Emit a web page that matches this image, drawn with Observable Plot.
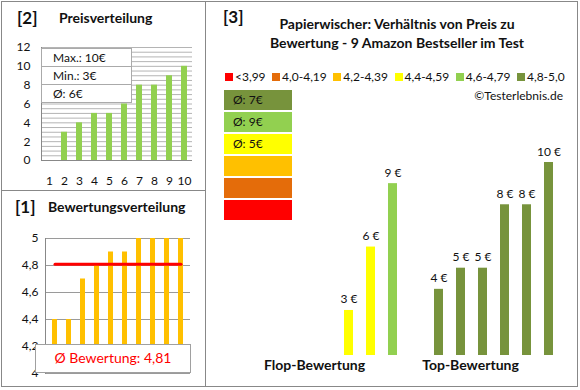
<!DOCTYPE html>
<html><head><meta charset="utf-8">
<script src="https://cdn.jsdelivr.net/npm/d3@7"></script>
<script src="https://cdn.jsdelivr.net/npm/@observablehq/plot@0.6"></script>
<style>
body{margin:0;background:#fff;}
#root{position:relative;width:580px;height:390px;font-family:Lato,"Open Sans",sans-serif;color:#111;overflow:hidden;background:#fff;}
#root svg{position:absolute;}
</style></head><body><div id="root"></div>
<script>
// ---------- data ----------
const priceSlots = [1,2,3,4,5,6,7,8,9,10];
const priceValues = [0,3,4,5,5,6,8,8,9,10];
const priceTicks = [0,2,4,6,8,10,12];
const priceGrid = d3.range(0, 12.01, 0.5);
const priceStats = ["Max.: 10€", "Min.: 3€", "Ø: 6€"];

const ratingSlots = [1,2,3,4,5,6,7,8,9,10];
const ratingValues = [4.4,4.4,4.7,4.8,4.9,4.9,5,5,5,5];
const ratingTicks = [4,4.2,4.4,4.6,4.8,5];
const ratingAverage = 4.81;
const ratingAverageLabel = "Ø Bewertung: 4,81";

const classLabels = ["<3,99","4,0-4,19","4,2-4,39","4,4-4,59","4,6-4,79","4,8-5,0"];
const classColors = ["#FF0000","#E46C0A","#FFC000","#FFFF00","#92D050","#77933C"];
const classAvgPrice = [null,null,null,"Ø: 5€","Ø: 9€","Ø: 7€"];

const groupNames = ["Flop-Bewertung","Top-Bewertung"];
const flopPrices = [3,6,9];
const flopClasses = ["4,4-4,59","4,4-4,59","4,6-4,79"];
const topPrices = [4,5,5,8,8,10];
const topClasses = ["4,8-5,0","4,8-5,0","4,8-5,0","4,8-5,0","4,8-5,0","4,8-5,0"];
const slotsPerGroup = 6;

const titleMain = ["Papierwischer: Verhältnis von Preis zu","Bewertung - 9 Amazon Bestseller im Test"];
const credit = "©Testerlebnis.de";

// ---------- helpers ----------
const root = document.getElementById("root");
function addDiv(css, text){const d=document.createElement("div");d.style.cssText="position:absolute;"+css;if(text!=null)d.textContent=text;root.appendChild(d);return d;}
function place(svg, left, top){svg.style.left=left+"px";svg.style.top=top+"px";root.appendChild(svg);}
const baseStyle = {fontFamily:"Lato, sans-serif", fontSize:"12px", color:"#111", background:"transparent", overflow:"visible"};
const commaFmt = d => String(+d.toFixed(1)).replace(".", ",");

// ---------- [2] Preisverteilung ----------
const pricePlot = Plot.plot({
  width:205, height:190, marginLeft:41, marginRight:13, marginTop:47, marginBottom:30,
  style: baseStyle,
  x:{type:"band", domain:priceSlots, paddingInner:0.6, paddingOuter:0.3},
  y:{domain:[0,12]},
  marks:[
    Plot.ruleY(priceGrid, {stroke:"#b4b4b4"}),
    Plot.barY(priceSlots.map((s,i)=>({slot:s, price:priceValues[i]})), {x:"slot", y:"price", fill:"#92D050"}),
    Plot.frame({anchor:"left", stroke:"#888"}),
    Plot.ruleY([0], {stroke:"#888"}),
    Plot.axisY({ticks:priceTicks, tickSize:0, tickPadding:11, fontSize:12, label:null}),
    Plot.axisX({tickSize:0, tickPadding:16, fontSize:12, label:null})
  ]
});
place(pricePlot, 0, 0);

// ---------- [1] Bewertungsverteilung ----------
const ratingPlot = Plot.plot({
  width:205, height:197, marginLeft:45, marginRight:15, marginTop:48, marginBottom:14,
  style: baseStyle,
  x:{type:"band", domain:ratingSlots, paddingInner:0.62, paddingOuter:0.31, axis:null},
  y:{domain:[4,5]},
  marks:[
    Plot.ruleY(ratingTicks, {stroke:"#9a9a9a"}),
    Plot.barY(ratingSlots.map((s,i)=>({slot:s, rating:ratingValues[i]})), {x:"slot", y:"rating", fill:"#FFC000", clip:true}),
    Plot.frame({anchor:"left", stroke:"#888"}),
    Plot.lineY(ratingSlots.map(s=>({slot:s, avg:ratingAverage})), {x:"slot", y:"avg", stroke:"#FF0000", strokeWidth:3}),
    Plot.axisY({ticks:ratingTicks, tickFormat:commaFmt, tickSize:0, tickPadding:7, fontSize:12, label:null})
  ]
});
place(ratingPlot, 0, 190);

// ---------- [3] Preis / Bewertung ----------
const rightData = [
  ...flopPrices.map((p,i)=>({group:groupNames[0], slot:slotsPerGroup-flopPrices.length+i, price:p, cls:flopClasses[i]})),
  ...topPrices.map((p,i)=>({group:groupNames[1], slot:i, price:p, cls:topClasses[i]}))
];
const mainPlot = Plot.plot({
  width:372, height:290, marginLeft:63, marginRight:18, marginTop:62, marginBottom:35,
  style: baseStyle,
  fx:{domain:groupNames, paddingInner:0.143, paddingOuter:0},
  x:{type:"band", domain:d3.range(slotsPerGroup), paddingInner:0.6, paddingOuter:0.3, axis:null},
  y:{domain:[0.87,10], axis:null},
  color:{domain:classLabels, range:classColors},
  marks:[
    Plot.barY(rightData, {fx:"group", x:"slot", y:"price", fill:"cls", clip:true}),
    Plot.text(rightData, {fx:"group", x:"slot", y:"price", text:d=>d.price+" €", lineAnchor:"bottom", dy:-7, fontSize:12, fill:"#111"}),
    Plot.axisFx({anchor:"bottom", tickSize:0, tickPadding:5, dx:-23, fontSize:14, fontWeight:"bold", label:null})
  ]
});
place(mainPlot, 206, 100);

// ---------- frame lines ----------
addDiv("left:1px;top:1px;width:577px;height:386px;border:1px solid #888;box-sizing:border-box;");
addDiv("left:205px;top:1px;width:1px;height:386px;background:#888;");
addDiv("left:1px;top:190px;width:205px;height:1px;background:#888;");

// ---------- titles ----------
addDiv("left:17px;top:8px;font-size:17px;font-weight:bold;line-height:1.2;", "[2]");
addDiv("left:59px;top:10px;font-size:14px;font-weight:bold;line-height:1.2;", "Preisverteilung");
addDiv("left:15px;top:197px;font-size:17px;font-weight:bold;line-height:1.2;", "[1]");
addDiv("left:48px;top:199px;font-size:14px;font-weight:bold;line-height:1.2;", "Bewertungsverteilung");
addDiv("left:223px;top:7px;font-size:17px;font-weight:bold;line-height:1.2;", "[3]");
titleMain.forEach((t,i)=>addDiv(`left:212px;width:370px;text-align:center;top:${16+i*19.3}px;font-size:14px;font-weight:bold;line-height:1.2;white-space:nowrap;`, t));

// ---------- price stats box ----------
const statBox = addDiv("left:41px;top:48px;width:91px;height:55px;border:1px solid #aaa;box-sizing:border-box;background:#fff;");
priceStats.forEach((t,i)=>{
  const r=document.createElement("div");
  r.style.cssText=`height:18px;line-height:18px;padding-left:11px;font-size:12px;${i<priceStats.length-1?"border-bottom:1px solid #aaa;":""}box-sizing:border-box;white-space:nowrap;`;
  r.textContent=t; statBox.appendChild(r);
});

// ---------- rating average box ----------
addDiv("left:35px;top:344px;width:156px;height:29px;border:1px solid #a0a0a0;box-sizing:border-box;background:#fff;color:#FF0000;font-size:14px;line-height:26px;text-align:center;white-space:nowrap;", ratingAverageLabel);

// ---------- rating class legend ----------
const legend = addDiv("left:225px;top:70px;display:flex;align-items:center;font-size:12px;line-height:14px;white-space:nowrap;");
classLabels.forEach((l,i)=>{
  const sq=document.createElement("span");
  sq.style.cssText=`display:inline-block;width:8px;height:8px;background:${classColors[i]};margin-right:2px;`;
  const tx=document.createElement("span");
  tx.style.cssText="margin-right:6.5px;"; tx.textContent=l;
  legend.appendChild(sq); legend.appendChild(tx);
});
addDiv("left:420px;width:143px;text-align:right;top:89px;font-size:12px;line-height:1.2;", credit);

// ---------- class average boxes ----------
d3.range(classLabels.length).reverse().forEach((ci,k)=>{
  const b=addDiv(`left:224px;top:${90+k*22}px;width:68px;height:20px;background:${classColors[ci]};font-size:12px;line-height:20px;padding-left:9px;box-sizing:border-box;`);
  if(classAvgPrice[ci]) b.textContent=classAvgPrice[ci];
});
</script></body></html>
